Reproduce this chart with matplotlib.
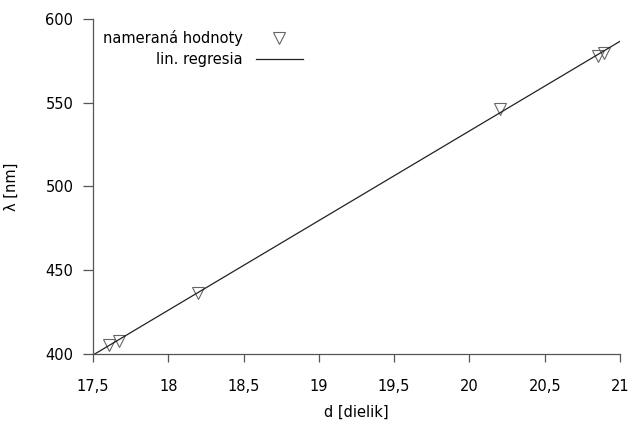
import numpy as np
from matplotlib import pyplot as plt
from matplotlib.ticker import FuncFormatter

d = [17.606, 17.673, 18.197, 20.20, 20.853, 20.893]
lam = [405.4, 407.8, 436.4, 546.3, 577.9, 579.7]

x_ticks = [17.5, 18, 18.5, 19, 19.5, 20, 20.5, 21]
y_ticks = [400, 450, 500, 550, 600]

plt.rcParams['font.family'] = ['DejaVu Sans']
plt.rcParams['font.size'] = 10.5

fig = plt.figure(figsize=(6.32, 4.28), dpi=100)
ax = fig.add_axes([0.147, 0.173, 0.834, 0.783])

k, q = np.polyfit(d, lam, 1)
xs = np.array([17.5, 21])

gray = "#555555"
ax.plot(d, lam, linestyle="none", marker="v", markersize=8,
        markerfacecolor="none", markeredgecolor="#666666", markeredgewidth=0.8,
        label="nameraná hodnoty")
ax.plot(xs, k * xs + q, color="#222222", linewidth=0.9, label="lin. regresia")

ax.set_xlim(17.5, 21)
ax.set_ylim(400, 600)
ax.set_xticks(x_ticks)
ax.set_yticks(y_ticks)
ax.xaxis.set_major_formatter(FuncFormatter(lambda v, p: ("%g" % v).replace(".", ",")))

for s in ["top", "right"]:
    ax.spines[s].set_visible(False)
for s in ["left", "bottom"]:
    ax.spines[s].set_color(gray)
    ax.spines[s].set_linewidth(0.9)
ax.tick_params(axis="y", direction="out", length=7, color=gray, width=0.9, pad=7)
ax.tick_params(axis="x", direction="out", length=6, color=gray, width=0.9, pad=12)

ax.set_xlabel("d [dielik]", labelpad=8)
ax.set_ylabel("λ [nm]", labelpad=19)

ax.legend(loc="upper left", bbox_to_anchor=(0.0, 0.998), frameon=False,
          markerfirst=False, handlelength=3.2, handletextpad=0.9,
          labelspacing=0.45, borderaxespad=0.3)

fig.savefig("out.png")
